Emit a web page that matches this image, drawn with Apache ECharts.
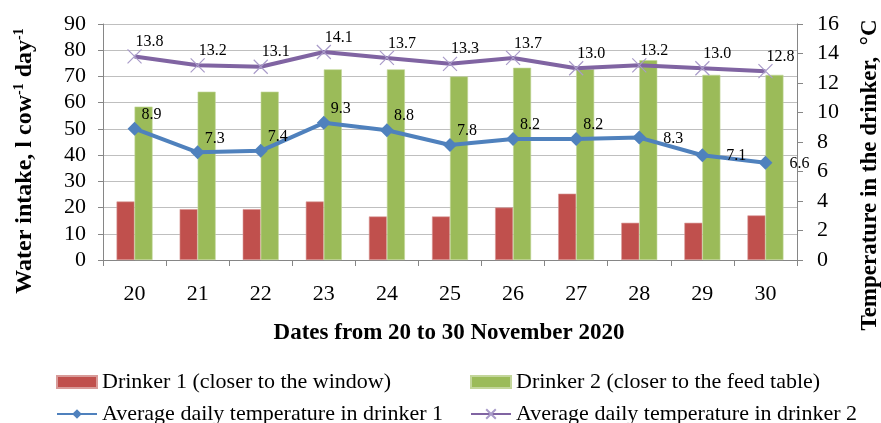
<!DOCTYPE html>
<html>
<head>
<meta charset="utf-8">
<script src="https://cdn.jsdelivr.net/npm/echarts@6/dist/echarts.min.js"></script>
<style>
html,body{margin:0;padding:0;background:#fff;}
#chart{width:881px;height:423px;}
</style>
</head>
<body>
<div id="chart"></div>
<script>
const categories = ['20', '21', '22', '23', '24', '25', '26', '27', '28', '29', '30'];
const drinker1 = [22.3, 19.4, 19.4, 22.3, 16.6, 16.6, 20.0, 25.3, 14.2, 14.2, 17.0];
const drinker2 = [58.5, 64.2, 64.2, 72.7, 72.7, 70.0, 73.3, 72.8, 76.2, 70.6, 70.6];
const temp1 = [8.9, 7.3, 7.4, 9.3, 8.8, 7.8, 8.2, 8.2, 8.3, 7.1, 6.6];
const temp2 = [13.8, 13.2, 13.1, 14.1, 13.7, 13.3, 13.7, 13.0, 13.2, 13.0, 12.8];
const seriesNames = [
  'Drinker 1 (closer to the window)',
  'Drinker 2 (closer to the feed table)',
  'Average daily temperature in drinker 1',
  'Average daily temperature in drinker 2'
];
const xTitle = 'Dates from 20 to 30 November 2020';
const temp1RightLabelFrom = 8;

const FONT = '"Liberation Serif", "Times New Roman", serif';
const chart = echarts.init(document.getElementById('chart'), null, {renderer: 'canvas'});

const fmt = p => Number(p.value).toFixed(1);
const temp1Data = temp1.map((v, i) => i >= temp1RightLabelFrom
  ? {value: v, label: {position: 'right', offset: [12, 1]}}
  : v);

function legendAt(left, top, item) {
  return {
    left: left, top: top,
    orient: 'horizontal',
    itemWidth: 40,
    itemHeight: 12,
    itemGap: 0,
    textStyle: {fontFamily: FONT, fontSize: 22, color: '#000', lineHeight: 22},
    data: [item]
  };
}

chart.setOption({
  animation: false,
  backgroundColor: '#fff',
  textStyle: {fontFamily: FONT},
  grid: {left: 103, right: 84, top: 24, bottom: 163, containLabel: false},
  legend: [
    legendAt(51, 366, {name: seriesNames[0], icon: 'rect'}),
    legendAt(465, 366, {name: seriesNames[1], icon: 'rect'}),
    legendAt(51, 398, seriesNames[2]),
    legendAt(465, 398, seriesNames[3])
  ],
  xAxis: {
    type: 'category',
    data: categories,
    boundaryGap: true,
    axisLine: {lineStyle: {color: '#868686', width: 1}},
    axisTick: {show: true, length: 6, lineStyle: {color: '#868686'}},
    axisLabel: {fontFamily: FONT, fontSize: 22, color: '#000', margin: 23}
  },
  yAxis: [
    {
      type: 'value', min: 0, max: 90, interval: 10, position: 'left',
      axisLine: {show: true, lineStyle: {color: '#868686'}},
      axisTick: {show: true, length: 5, lineStyle: {color: '#868686'}},
      axisLabel: {fontFamily: FONT, fontSize: 22, color: '#000', margin: 17},
      splitLine: {show: true, lineStyle: {color: '#bfbfbf', width: 1}}
    },
    {
      type: 'value', min: 0, max: 16, interval: 2, position: 'right',
      axisLine: {show: true, lineStyle: {color: '#868686'}},
      axisTick: {show: true, length: 6, lineStyle: {color: '#868686'}},
      axisLabel: {fontFamily: FONT, fontSize: 22, color: '#000', margin: 20},
      splitLine: {show: false}
    }
  ],
  series: [
    {
      name: seriesNames[0], type: 'bar', data: drinker1, yAxisIndex: 0,
      barWidth: 18, barGap: '0%',
      itemStyle: {color: '#c0504d', borderColor: '#d89b99', borderWidth: 0.6}
    },
    {
      name: seriesNames[1], type: 'bar', data: drinker2, yAxisIndex: 0,
      barWidth: 18, barGap: '0%',
      itemStyle: {color: '#9bbb59', borderColor: '#c3d69b', borderWidth: 0.6}
    },
    {
      name: seriesNames[2], type: 'line', data: temp1Data, yAxisIndex: 1,
      z: 5,
      symbol: 'diamond', symbolSize: 14,
      lineStyle: {color: '#4f81bd', width: 4},
      itemStyle: {color: '#4f81bd'},
      label: {show: true, position: 'top', offset: [17, 6], formatter: fmt,
        fontFamily: FONT, fontSize: 16, color: '#000'}
    },
    {
      name: seriesNames[3], type: 'line', data: temp2, yAxisIndex: 1,
      z: 5,
      symbol: 'path://M0,0L10,10M10,0L0,10', symbolSize: 14,
      lineStyle: {color: '#8064a2', width: 4},
      itemStyle: {color: 'rgba(0,0,0,0)', borderColor: '#a99bc9', borderWidth: 1.2},
      label: {show: true, position: 'top', offset: [15, 6], formatter: fmt,
        fontFamily: FONT, fontSize: 16, color: '#000'}
    }
  ],
  graphic: [
    {
      type: 'text', x: 25, y: 161, rotation: Math.PI / 2,
      style: {
        text: 'Water intake, l cow{sup|-1} day{sup|-1}',
        fontFamily: FONT, fontSize: 24, fontWeight: 'bold', fill: '#000',
        textAlign: 'center', textVerticalAlign: 'middle',
        rich: {sup: {fontFamily: FONT, fontSize: 14, fontWeight: 'bold', fill: '#000', verticalAlign: 'top', lineHeight: 26}}
      }
    },
    {
      type: 'text', x: 870, y: 175, rotation: Math.PI / 2,
      style: {
        text: 'Temperature in the drinker,  \u00B0C',
        fontFamily: FONT, fontSize: 23, fontWeight: 'bold', fill: '#000',
        textAlign: 'center', textVerticalAlign: 'middle'
      }
    },
    {
      type: 'text', x: 449, y: 333,
      style: {
        text: xTitle,
        fontFamily: FONT, fontSize: 23, fontWeight: 'bold', fill: '#000',
        textAlign: 'center', textVerticalAlign: 'middle'
      }
    }
  ]
});
</script>
</body>
</html>
